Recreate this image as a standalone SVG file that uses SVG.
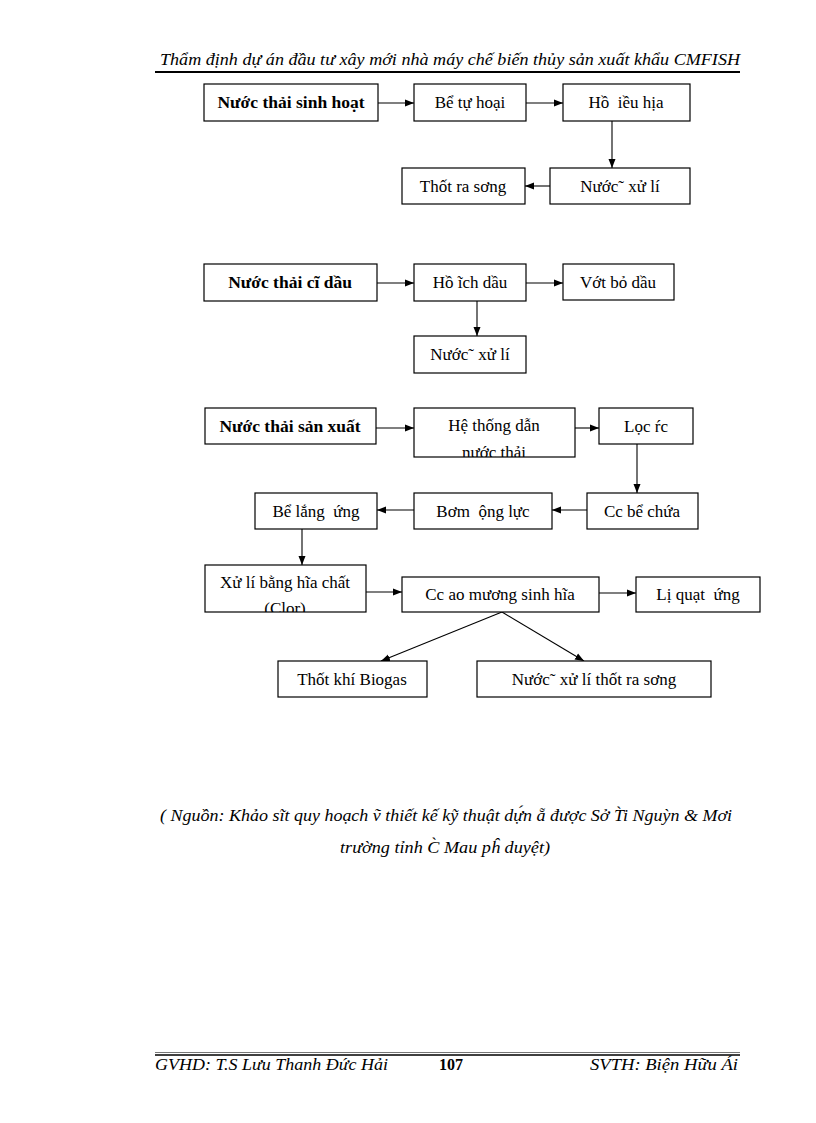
<svg xmlns="http://www.w3.org/2000/svg" width="816" height="1123" viewBox="0 0 816 1123">
<style>
.box{fill:#fff;stroke:#000;stroke-width:1.2}
.t{font-family:"Liberation Serif","Times New Roman",serif;font-size:17px;fill:#000;text-anchor:middle}
.b{font-weight:bold;font-size:17.5px}
.c{stroke:#000;stroke-width:1.1;fill:none;marker-end:url(#ah)}
.it{font-family:"Liberation Serif","Times New Roman",serif;font-style:italic;fill:#000}
</style>
<defs>
<marker id="ah" markerUnits="userSpaceOnUse" markerWidth="9" markerHeight="8" refX="9" refY="4" orient="auto">
<path d="M0,0.5 L9,4 L0,7.5 z" fill="#000"/>
</marker>
<clipPath id="clipHe"><rect x="414" y="408" width="161" height="49"/></clipPath>
<clipPath id="clipXu"><rect x="205" y="565" width="161" height="47"/></clipPath>
</defs>
<rect width="816" height="1123" fill="#fff"/>

<g id="header">
<text class="it" x="450" y="65" font-size="17" text-anchor="middle" textLength="580" lengthAdjust="spacingAndGlyphs">Thẩm định dự án đầu tư xây mới nhà máy chế biến thủy sản xuất khẩu CMFISH</text>
<line x1="155" y1="72" x2="740" y2="72" stroke="#000" stroke-width="2"/>
</g>

<g id="connectors">
<line class="c" x1="378" y1="103" x2="414" y2="103"/>
<line class="c" x1="526" y1="103" x2="563" y2="103"/>
<line class="c" x1="612" y1="121" x2="612" y2="168"/>
<line class="c" x1="550" y1="186" x2="525" y2="186"/>
<line class="c" x1="377" y1="283" x2="414" y2="283"/>
<line class="c" x1="526" y1="283" x2="563" y2="283"/>
<line class="c" x1="477" y1="301" x2="477" y2="336"/>
<line class="c" x1="376" y1="428" x2="414" y2="428"/>
<line class="c" x1="575" y1="428" x2="599" y2="428"/>
<line class="c" x1="637" y1="444" x2="637" y2="493"/>
<line class="c" x1="587" y1="510" x2="552" y2="510"/>
<line class="c" x1="414" y1="510" x2="377" y2="510"/>
<line class="c" x1="302" y1="529" x2="302" y2="565"/>
<line class="c" x1="366" y1="592" x2="402" y2="592"/>
<line class="c" x1="599" y1="593" x2="636" y2="593"/>
<line class="c" x1="502" y1="612" x2="381" y2="661"/>
<line class="c" x1="502" y1="612" x2="584" y2="661"/>
</g>

<g id="n1"><rect class="box" x="204" y="84" width="174" height="37"/><text class="t b" x="291" y="108">Nước thải sinh hoạt</text></g>
<g id="n2"><rect class="box" x="414" y="84" width="112" height="37"/><text class="t" x="470" y="108">Bể tự hoại</text></g>
<g id="n3"><rect class="box" x="563" y="84" width="127" height="37"/><text class="t" x="626" y="108" xml:space="preserve">Hồ  iều hịa</text></g>
<g id="n4"><rect class="box" x="550" y="168" width="140" height="36"/><text class="t" x="620" y="192">Nước˜ xử lí</text></g>
<g id="n5"><rect class="box" x="402" y="168" width="123" height="36"/><text class="t" x="463" y="192">Thốt ra sơng</text></g>

<g id="n6"><rect class="box" x="204" y="264" width="173" height="37"/><text class="t b" x="290" y="288">Nước thải cĩ dầu</text></g>
<g id="n7"><rect class="box" x="414" y="264" width="112" height="37"/><text class="t" x="470" y="288">Hồ ĩch dầu</text></g>
<g id="n8"><rect class="box" x="563" y="264" width="111" height="36"/><text class="t" x="618" y="288">Vớt bỏ dầu</text></g>
<g id="n9"><rect class="box" x="414" y="336" width="112" height="37"/><text class="t" x="470" y="360">Nước˜ xử lí</text></g>

<g id="n10"><rect class="box" x="205" y="408" width="171" height="36"/><text class="t b" x="290" y="432">Nước thải sản xuất</text></g>
<g id="n11"><rect class="box" x="414" y="408" width="161" height="49"/>
<g clip-path="url(#clipHe)"><text class="t" x="494" y="431">Hệ thống dẫn</text><text class="t" x="494" y="458">nước thải</text></g></g>
<g id="n12"><rect class="box" x="599" y="408" width="94" height="36"/><text class="t" x="646" y="432">Lọc ŕc</text></g>
<g id="n13"><rect class="box" x="587" y="493" width="111" height="36"/><text class="t" x="642" y="517">Cc bể chứa</text></g>
<g id="n14"><rect class="box" x="414" y="493" width="138" height="36"/><text class="t" x="483" y="517" xml:space="preserve">Bơm  ộng lực</text></g>
<g id="n15"><rect class="box" x="255" y="493" width="122" height="36"/><text class="t" x="316" y="517" xml:space="preserve">Bể lắng  ứng</text></g>

<g id="n16"><rect class="box" x="205" y="565" width="161" height="47"/>
<g clip-path="url(#clipXu)"><text class="t" x="285" y="588">Xử lí bằng hĩa chất</text><text class="t" x="285" y="614">(Clor)</text></g></g>
<g id="n17"><rect class="box" x="402" y="577" width="197" height="35"/><text class="t" x="500" y="600">Cc ao mương sinh hĩa</text></g>
<g id="n18"><rect class="box" x="636" y="577" width="124" height="35"/><text class="t" x="698" y="600" xml:space="preserve">Lị quạt  ứng</text></g>
<g id="n19"><rect class="box" x="278" y="661" width="149" height="36"/><text class="t" x="352" y="685">Thốt khí Biogas</text></g>
<g id="n20"><rect class="box" x="477" y="661" width="234" height="36"/><text class="t" x="594" y="685">Nước˜ xử lí thốt ra sơng</text></g>

<g id="caption">
<text class="it" x="446" y="821" font-size="16" text-anchor="middle" textLength="572" lengthAdjust="spacingAndGlyphs">( Nguồn: Khảo sĩt quy hoạch ṽ thiết kế kỹ thuật dự́n ẵ được Sở T̀i Nguỳn &amp; Mơi</text>
<text class="it" x="445" y="853" font-size="16" text-anchor="middle" textLength="210" lengthAdjust="spacingAndGlyphs">trường tỉnh C̀ Mau pĥ duyệt)</text>
</g>

<g id="footer">
<line x1="155" y1="1052.5" x2="740" y2="1052.5" stroke="#777" stroke-width="1"/>
<line x1="155" y1="1055" x2="740" y2="1055" stroke="#000" stroke-width="1.5"/>
<text class="it" x="155" y="1070" font-size="16" textLength="233" lengthAdjust="spacingAndGlyphs">GVHD: T.S Lưu Thanh Đức Hải</text>
<text x="451" y="1070" font-family="Liberation Serif, serif" font-weight="bold" font-size="16" text-anchor="middle">107</text>
<text class="it" x="738" y="1070" font-size="16" text-anchor="end" textLength="148" lengthAdjust="spacingAndGlyphs">SVTH: Biện Hữu Ái</text>
</g>
</svg>
